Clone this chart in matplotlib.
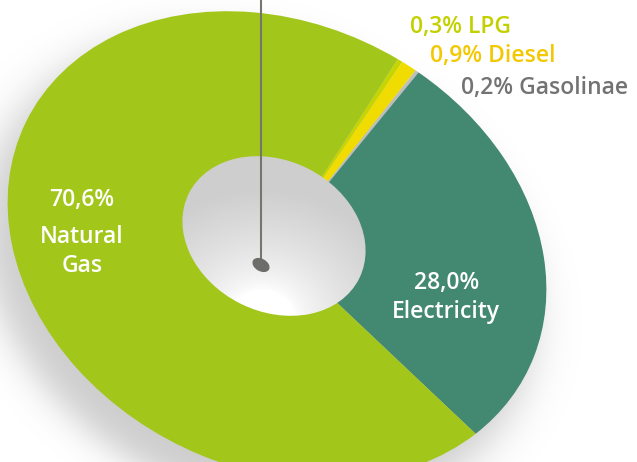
import numpy as np
import matplotlib.pyplot as plt
from matplotlib.patches import Ellipse
from matplotlib.transforms import Affine2D

# energy mix shares, clockwise from the top
labels = ['LPG', 'Diesel', 'Gasolinae', 'Electricity', 'Natural Gas']
shares = [0.3, 0.9, 0.2, 28.0, 70.6]
colors = ['#c6d400', '#f0dc00', '#bdbdbd', '#438870', '#a2c61a']
text_colors = ['#c3d000', '#f4c800', '#737373']

# ring geometry in pixels
cx, cy = 277, 246
a, b = 280, 222
tilt = 26.6
hole = 0.34

plt.rcParams['font.family'] = ['Open Sans', 'DejaVu Sans']

W, H = 637, 462
fig = plt.figure(figsize=(W / 100, H / 100), dpi=100)
ax = fig.add_axes([0, 0, 1, 1])


def pct(v):
    return f'{v:.1f}%'.replace('.', ',')


# soft drop shadow behind the ring
yy, xx = np.mgrid[0:H, 0:W] + 0.5
sx, sy = cx - 18, cy + 26
t = np.deg2rad(tilt)
dx, dy = xx - sx, yy - sy
u = (dx * np.cos(t) + dy * np.sin(t)) / (a * 1.02)
v = (-dx * np.sin(t) + dy * np.cos(t)) / (b * 1.02)
r = np.hypot(u, v)
shade = 0.2 / (1 + np.exp((r - 1.0) / 0.045))
img = np.ones((H, W, 4))
img[..., :3] = 0.0
img[..., 3] = shade
ax.imshow(img, extent=(0, W, H, 0), zorder=0, interpolation='bilinear')

wedges, _ = ax.pie(shares, colors=colors, startangle=-85, counterclock=True,
                   wedgeprops=dict(linewidth=0))
ring = Affine2D().scale(a, b).rotate_deg(tilt).translate(cx, cy) + ax.transData
for w in wedges:
    w.set_transform(ring)
    w.set_zorder(1)

# grey hole with a light radial gradient
hx, hy = 274, 236
ha, hb = a * hole, b * hole
hole_patch = Ellipse((hx, hy), 2 * ha, 2 * hb, angle=tilt, transform=ax.transData,
                     facecolor='none', edgecolor='none')
ax.add_patch(hole_patch)
d = np.hypot((xx - 262) / 1.1, yy - 320)
g = np.clip((d - 30) / 100, 0, 1) ** 0.7
grey = 1.0 - 0.19 * g
himg = np.dstack([grey, grey, grey])
im = ax.imshow(himg, extent=(0, W, H, 0), zorder=2, interpolation='bilinear')
im.set_clip_path(hole_patch)

# pointer from the top edge down to the hub
ax.plot([261, 261], [0, 265], color='#76766f', lw=1.5, zorder=3,
        solid_capstyle='butt')
ax.add_patch(Ellipse((261, 265), 17, 11, angle=30, color='#6d6d69', zorder=4))

fs = 16.5
kw = dict(fontsize=fs, weight='semibold', va='center', zorder=5)
ax.text(82, 200, pct(shares[4]), color='white', ha='center', **kw)
ax.text(82, 237, 'Natural', color='white', ha='center', **kw)
ax.text(82, 266, 'Gas', color='white', ha='center', **kw)
ax.text(447, 283, pct(shares[3]), color='white', ha='center', **kw)
ax.text(446, 312, labels[3], color='white', ha='center', **kw)

for i, (x0, y0) in enumerate([(410, 27), (430, 56), (461, 88)]):
    ax.text(x0, y0, f'{pct(shares[i])} {labels[i]}', color=text_colors[i],
            ha='left', **kw)

ax.set_aspect('auto')
ax.set_xlim(0, W)
ax.set_ylim(H, 0)
ax.axis('off')
fig.savefig('out.png', dpi=100)
